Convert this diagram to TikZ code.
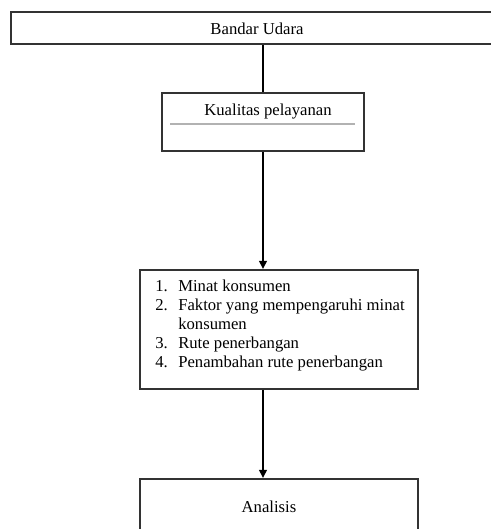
\documentclass[tikz,border=0pt]{standalone}
\usepackage{fontspec}
\setmainfont{Liberation Serif}
\usetikzlibrary{arrows.meta,fit}
\begin{document}
\begin{tikzpicture}[x=0.72pt,y=-0.72pt,
  box/.style={draw=black!80, line width=1.3pt, inner sep=0pt},
  txt/.style={inner sep=0pt, font=\fontsize{12}{14}\selectfont},
  conn/.style={line width=1.9pt, black},
  arr/.style={conn, -{Triangle[length=6pt,width=5.5pt]}},
  rule/.style={draw=black!30, line width=1.3pt}]
\useasboundingbox (0,0) rectangle (491,529);
\clip (0,0) rectangle (491,529);
% boxes
\node[box, fit={(11,12) (500,44)}] (top) {};
\node[box, fit={(162,93) (364,151)}] (kual) {};
\node[box, fit={(140,270) (418,389)}] (list) {};
\node[box, fit={(140,479) (418,545)}] (anal) {};
% texts
\node[txt] (ttop) at (257,29) {Bandar Udara};
\node[txt] (tkual) at (268,112) {Kualitas pelayanan};
\coordinate (rl) at (170,124);
\coordinate (rr) at (355,124);
\draw[rule] (rl) -- (rr);
\node[txt, anchor=base west] (n1) at (155,291) {1.};
\node[txt, anchor=base west] (i1) at (178,291) {Minat konsumen};
\node[txt, anchor=base west] (n2) at (155,310) {2.};
\node[txt, anchor=base west] (i2) at (178,310) {Faktor yang mempengaruhi minat};
\node[txt, anchor=base west] (i2b) at (178,329) {konsumen};
\node[txt, anchor=base west] (n3) at (155,348) {3.};
\node[txt, anchor=base west] (i3) at (178,348) {Rute penerbangan};
\node[txt, anchor=base west] (n4) at (155,367) {4.};
\node[txt, anchor=base west] (i4) at (178,367) {Penambahan rute penerbangan};
\node[txt] (tanal) at (269,507) {Analisis};
% connectors
\draw[conn] (top.south -| kual.north) -- (kual.north);
\draw[arr] (kual.south) -- (list.north -| kual.south);
\draw[arr] (list.south -| kual.south) -- (anal.north -| kual.south);
\end{tikzpicture}
\end{document}
